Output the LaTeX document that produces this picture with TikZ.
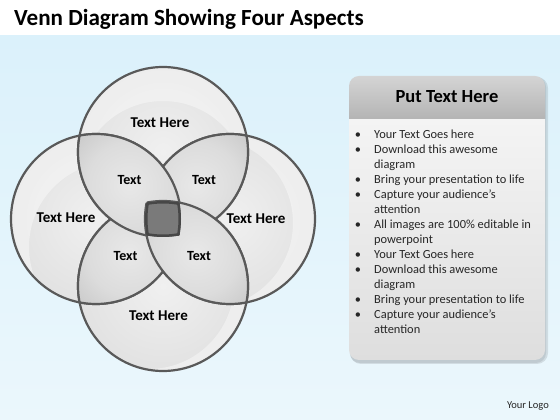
\documentclass[tikz,border=0pt]{standalone}
\usepackage{fontspec}
\setmainfont{Carlito}
\definecolor{bgT}{HTML}{D3EEFA}
\definecolor{bgB}{HTML}{F3FAFD}
\definecolor{csA}{HTML}{F0F0F0}
\definecolor{csB}{HTML}{E2E2E2}
\definecolor{csC}{HTML}{D2D2D2}
\definecolor{csD}{HTML}{B6B6B6}
\definecolor{lsA}{HTML}{E8E8E8}
\definecolor{lsB}{HTML}{DCDCDC}
\definecolor{lsC}{HTML}{C2C2C2}
\definecolor{lsD}{HTML}{969696}
\definecolor{outl}{HTML}{595959}
\definecolor{sqfill}{HTML}{7A7A7A}
\definecolor{sqline}{HTML}{474747}
\definecolor{hdT}{HTML}{E4E4E4}
\definecolor{hdB}{HTML}{A4A4A4}
\definecolor{bdB}{HTML}{D3D3D3}
\definecolor{txt}{HTML}{262626}
\pgfdeclareverticalshading{bgsh}{100bp}{color(0bp)=(bgB); color(100bp)=(bgT)}
\pgfdeclareradialshading{circsh}{\pgfpoint{0bp}{0bp}}{color(0bp)=(csA); color(25bp)=(csB); color(42bp)=(csC); color(50bp)=(csD)}
\pgfdeclareradialshading{lenssh}{\pgfpoint{0bp}{0bp}}{color(0bp)=(lsA); color(15bp)=(lsB); color(30bp)=(lsC); color(50bp)=(lsD)}
\pgfdeclareverticalshading{hdsh}{100bp}{color(0bp)=(hdB); color(100bp)=(hdT)}
\pgfdeclareverticalshading{bdsh}{100bp}{color(0bp)=(bdB); color(100bp)=(white)}
\tikzset{
  circline/.style={draw=outl, line width=2.2pt},
  bigtext/.style={inner sep=0pt, font=\bfseries\fontsize{15}{18}\selectfont, text=black},
  smalltext/.style={inner sep=0pt, font=\bfseries\fontsize{14}{17}\selectfont, text=black},
  bulletdot/.style={anchor=base, inner sep=0pt, font=\fontsize{12.4}{14}\selectfont, text=txt},
  bullettext/.style={anchor=base west, inner sep=0pt, font=\fontsize{12.4}{14}\selectfont, text=txt}
}
\newcommand\vennlens[3]{%
  \begin{scope}
    \clip (#1) circle[radius=85pt];
    \clip (#2) circle[radius=85pt];
    \shade[shading=lenssh] (#3) circle[radius=72pt];
  \end{scope}
  \begin{scope}
    \clip (#1) circle[radius=85pt];
    \draw[circline] (#2) circle[radius=85pt];
  \end{scope}
  \begin{scope}
    \clip (#2) circle[radius=85pt];
    \draw[circline] (#1) circle[radius=85pt];
  \end{scope}}
\newcommand\venngloss[2]{%
  \begin{scope}
    \clip (#1) circle[radius=85pt];
    \fill[white, opacity=0.4, even odd rule] (#1) circle[radius=85pt] ($(#1)+(#2)$) circle[radius=85pt];
  \end{scope}}
\usetikzlibrary{calc}
\begin{document}
\begin{tikzpicture}[x=1pt,y=1pt]
\useasboundingbox (0,0) rectangle (560,420);
% background
\fill[white] (0,0) rectangle (560,420);
\shade[shading=bgsh] (0,0) rectangle (560,384);
% title
\node[anchor=base west, inner sep=0pt, font=\bfseries\fontsize{23.1}{27}\selectfont] (title) at (14,394) {Venn Diagram Showing Four Aspects};
% circle centres
\coordinate (cT) at (163,268);
\coordinate (cL) at (96,201);
\coordinate (cR) at (230,201);
\coordinate (cB) at (163,134);
\coordinate (lTL) at (129.5,234.5);
\coordinate (lTR) at (196.5,234.5);
\coordinate (lBR) at (196.5,167.5);
\coordinate (lBL) at (129.5,167.5);
\foreach \c in {cT,cL,cR,cB} \shade[shading=circsh] (\c) circle[radius=85pt];
\venngloss{cT}{0,-34}
\venngloss{cL}{18,-28}
\venngloss{cR}{-22,-4}
\venngloss{cB}{-14,2}
\foreach \c in {cT,cL,cR,cB} \draw[circline] (\c) circle[radius=85pt];
% lenses
\vennlens{cT}{cR}{lTR}
\vennlens{cB}{cL}{lBL}
\vennlens{cL}{cT}{lTL}
\vennlens{cR}{cB}{lBR}
% centre
\begin{scope}
  \clip (cT) circle[radius=85pt];
  \clip (cL) circle[radius=85pt];
  \clip (cR) circle[radius=85pt];
  \clip (cB) circle[radius=85pt];
  \fill[sqfill] (100,140) rectangle (230,260);
  \foreach \c in {cT,cL,cR,cB} \draw[sqline, line width=5pt] (\c) circle[radius=85pt];
\end{scope}
% labels
\node[bigtext] (tT) at (160,297) {Text Here};
\node[bigtext] (tL) at (66,202) {Text Here};
\node[bigtext] (tR) at (256,201) {Text Here};
\node[bigtext] (tB) at (158.5,104) {Text Here};
\node[smalltext] (iTL) at (129.5,240) {Text};
\node[smalltext] (iTR) at (204,240) {Text};
\node[smalltext] (iBL) at (125.5,164) {Text};
\node[smalltext] (iBR) at (199,164) {Text};
% panel
\fill[black, opacity=0.10, rounded corners=11pt] (350,56) rectangle (548,343);
\fill[black, opacity=0.08, rounded corners=10pt] (350,57) rectangle (546,343);
\shade[shading=bdsh] (349,301) -- (349,70) arc[start angle=180, end angle=270, radius=10pt] -- (535,60) arc[start angle=270, end angle=360, radius=10pt] -- (545,301) -- cycle;
\shade[shading=hdsh] (349,301) -- (349,334) arc[start angle=180, end angle=90, radius=10pt] -- (535,344) arc[start angle=90, end angle=0, radius=10pt] -- (545,301) -- cycle;
\node[anchor=base, inner sep=0pt, font=\bfseries\fontsize{18.5}{22}\selectfont] (head) at (447,317) {Put Text Here};
% bullet lines
\node[bulletdot] (d1) at (358,281) {•};
\node[bullettext] (l1) at (374,281) {Your Text Goes here};
\node[bulletdot] (d2) at (358,266) {•};
\node[bullettext] (l2) at (374,266) {Download this awesome};
\node[bullettext] (l3) at (374,251) {diagram};
\node[bulletdot] (d4) at (358,236) {•};
\node[bullettext] (l4) at (374,236) {Bring your presentation to life};
\node[bulletdot] (d5) at (358,221) {•};
\node[bullettext] (l5) at (374,221) {Capture your audience’s};
\node[bullettext] (l6) at (374,206) {attention};
\node[bulletdot] (d7) at (358,191) {•};
\node[bullettext] (l7) at (374,191) {All images are 100\% editable in};
\node[bullettext] (l8) at (374,176) {powerpoint};
\node[bulletdot] (d9) at (358,161) {•};
\node[bullettext] (l9) at (374,161) {Your Text Goes here};
\node[bulletdot] (d10) at (358,146) {•};
\node[bullettext] (l10) at (374,146) {Download this awesome};
\node[bullettext] (l11) at (374,131) {diagram};
\node[bulletdot] (d12) at (358,116) {•};
\node[bullettext] (l12) at (374,116) {Bring your presentation to life};
\node[bulletdot] (d13) at (358,101) {•};
\node[bullettext] (l13) at (374,101) {Capture your audience’s};
\node[bullettext] (l14) at (374,86) {attention};
% logo
\node[anchor=base east, inner sep=0pt, font=\fontsize{10.5}{12}\selectfont, text=txt] (logo) at (549,11) {Your Logo};
\end{tikzpicture}
\end{document}
